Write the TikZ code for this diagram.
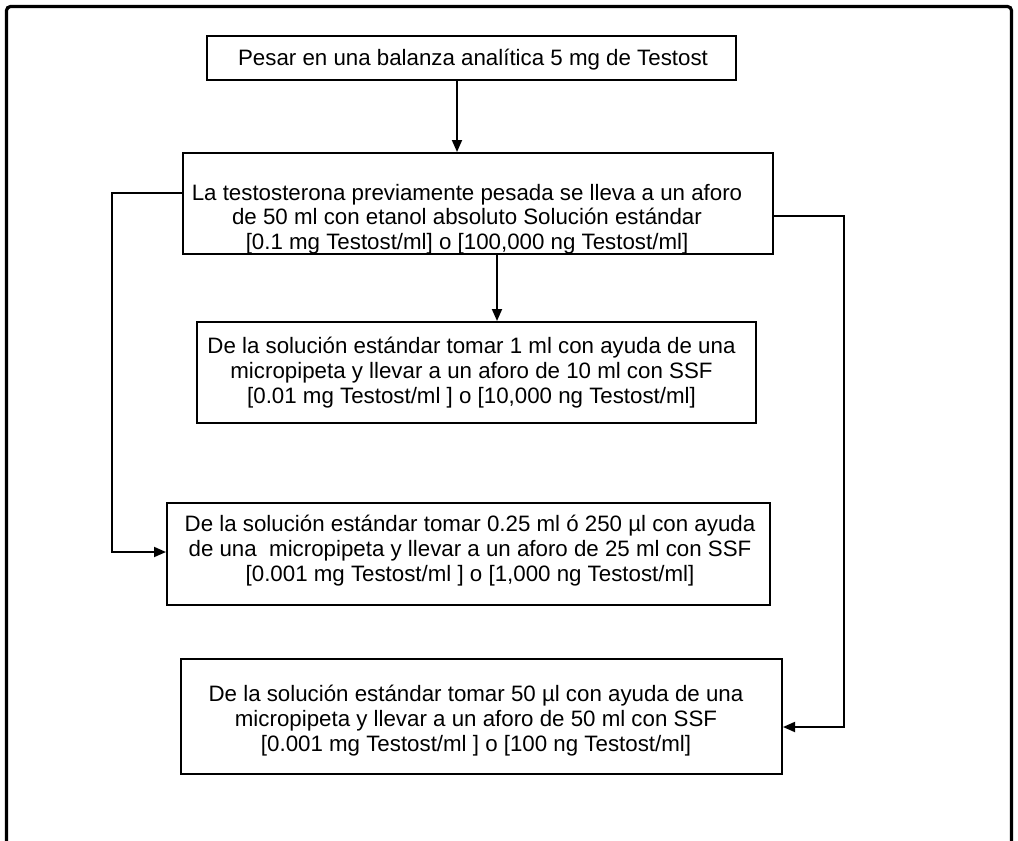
\documentclass[tikz,border=0pt]{standalone}
\usepackage{fontspec}
\setmainfont{Liberation Sans}
\usetikzlibrary{arrows.meta}
\begin{document}
\begin{tikzpicture}[x=1pt,y=-1pt,
  box/.style={draw,line width=2pt,inner sep=0pt},
  txt/.style={align=center,font=\fontsize{22.3}{24.6}\selectfont,inner sep=0pt},
  arr/.style={line width=1.8pt,-{Triangle[length=12pt,width=10pt]}}]
\useasboundingbox (0,0) rectangle (1018,841);

% outer frame, open at the bottom
\draw[line width=3.2pt,rounded corners=4pt] (6.5,845) -- (6.5,6.5) -- (1011.5,6.5) -- (1011.5,845);

% boxes
\node[box,minimum width=529pt,minimum height=44pt] (b1) at (471.5,58) {};
\node[box,minimum width=590pt,minimum height=101pt] (b2) at (478,203.5) {};
\node[box,minimum width=559pt,minimum height=101pt] (b3) at (476.5,372.5) {};
\node[box,minimum width=603pt,minimum height=102pt] (b4) at (468.5,554) {};
\node[box,minimum width=601pt,minimum height=115pt] (b5) at (481.5,716.5) {};

% texts
\node[txt] (t1) at (473,60) {Pesar en una balanza analítica 5 mg de Testost};
\node[txt] (t2) at (467,219) {La testosterona previamente pesada se lleva a un aforo\\
  de 50 ml con etanol absoluto Solución estándar\\
  {[}0.1 mg Testost/ml] o [100,000 ng Testost/ml]};
\node[txt] (t3) at (471.5,372.5) {De la solución estándar tomar 1 ml con ayuda de una\\
  micropipeta y llevar a un aforo de 10 ml con SSF\\
  {[}0.01 mg Testost/ml ] o [10,000 ng Testost/ml]};
\node[txt] (t4) at (470,550.5) {De la solución estándar tomar 0.25 ml ó 250 µl con ayuda\\
  de una\ \ micropipeta y llevar a un aforo de 25 ml con SSF\\
  {[}0.001 mg Testost/ml ] o [1,000 ng Testost/ml]};
\node[txt] (t5) at (476,720.5) {De la solución estándar tomar 50 µl con ayuda de una\\
  micropipeta y llevar a un aforo de 50 ml con SSF\\
  {[}0.001 mg Testost/ml ] o [100 ng Testost/ml]};

% connectors
\coordinate (a1) at ([xshift=-14.5pt]b1.south);
\draw[arr] (a1) -- (a1 |- b2.north);
\coordinate (a2) at ([xshift=19pt]b2.south);
\draw[arr] (a2) -- (a2 |- b3.north);
\draw[arr] ([yshift=10.5pt]b2.west) -- ++(-70,0) |- ([yshift=2pt]b4.west);
\draw[arr] ([yshift=-12.5pt]b2.east) -- ++(70,0) |- ([yshift=-10.5pt]b5.east);
\end{tikzpicture}
\end{document}
